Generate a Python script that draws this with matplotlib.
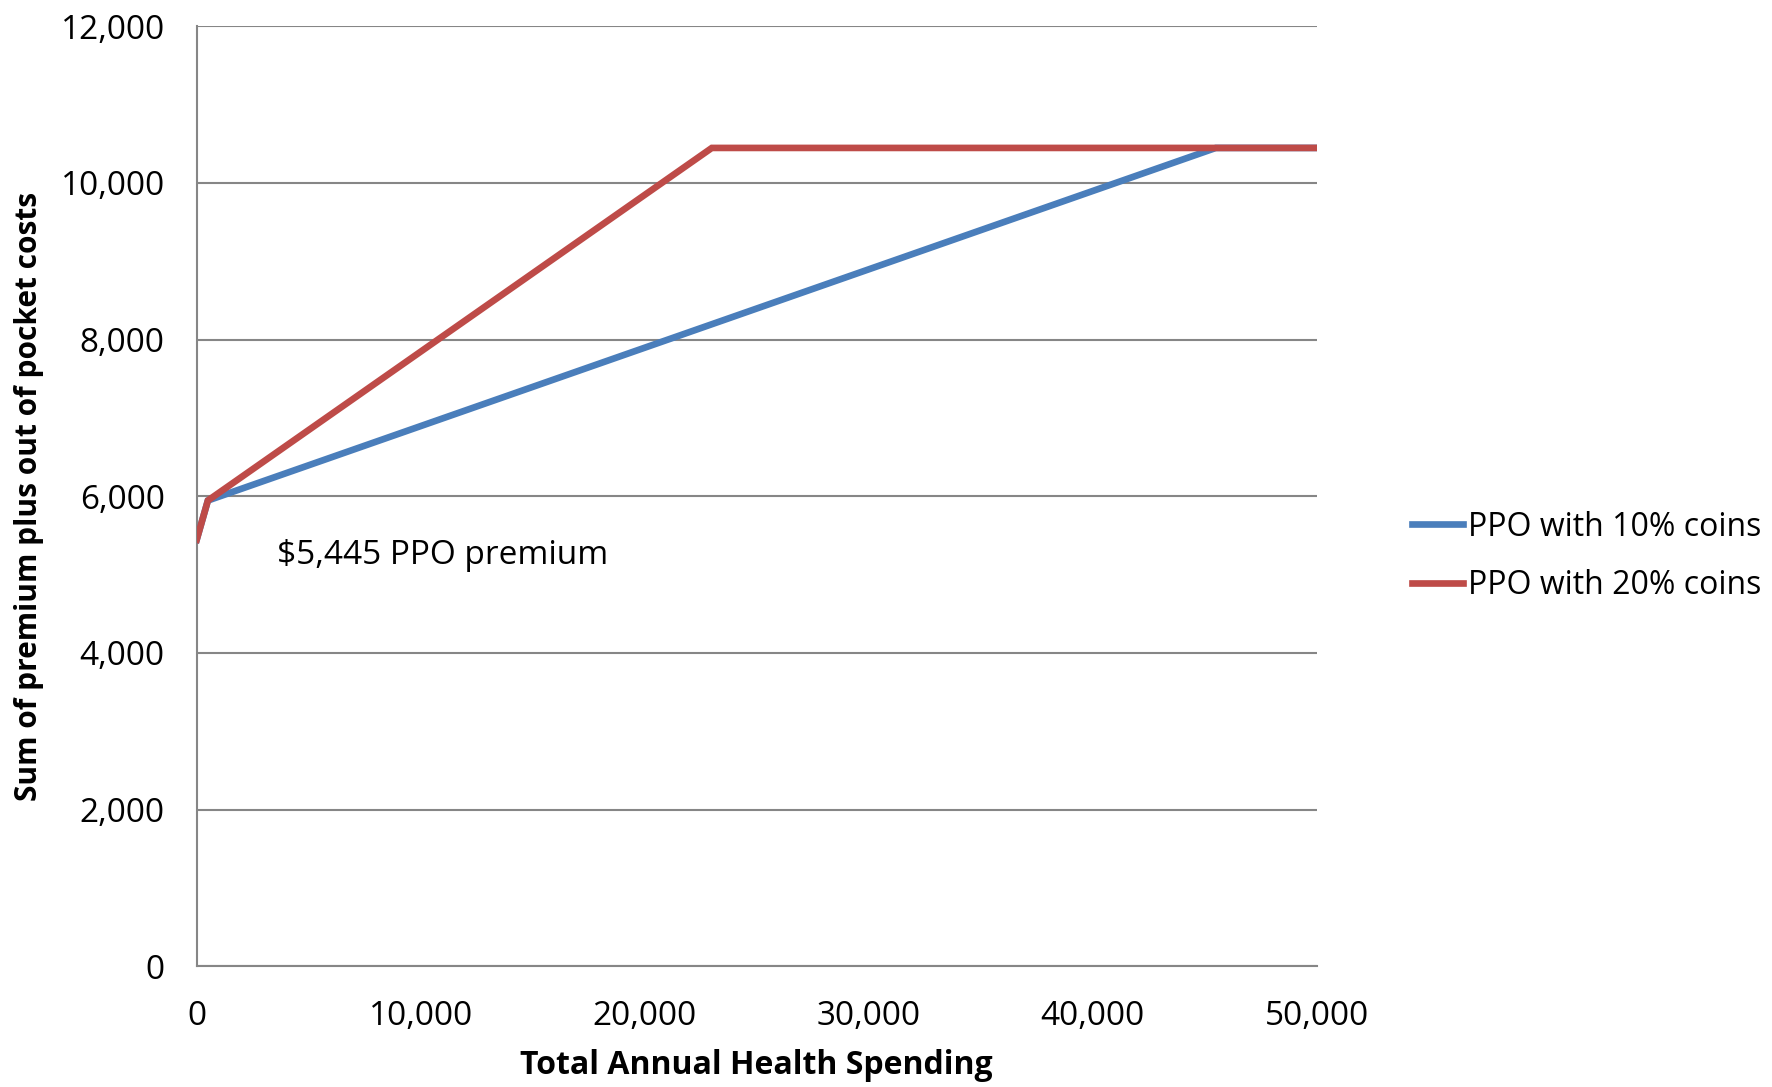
import matplotlib
matplotlib.use("Agg")
import matplotlib.pyplot as plt
from matplotlib.ticker import FuncFormatter, MultipleLocator

plt.rcParams['font.family'] = ['Open Sans', 'DejaVu Sans']

# Total annual health spending breakpoints and cost totals (premium + out of pocket)
spend_10 = [0, 500, 45500, 50000]
cost_10 = [5445, 5945, 10445, 10445]
spend_20 = [0, 500, 23000, 50000]
cost_20 = [5445, 5945, 10445, 10445]

label_10 = "PPO with 10% coins"
label_20 = "PPO with 20% coins"
premium_note = "$5,445 PPO premium"

blue = "#4A7EBB"
red = "#BE4B48"
grid_gray = "#868686"

fig = plt.figure(figsize=(17.72, 10.87), dpi=100)
ax = fig.add_axes([0.111, 0.111, 0.632, 0.865])

ax.plot(spend_10, cost_10, color=blue, lw=4.8, solid_joinstyle='miter', label=label_10, zorder=3)
ax.plot(spend_20, cost_20, color=red, lw=4.8, solid_joinstyle='miter', label=label_20, zorder=4)

ax.set_xlim(0, 50000)
ax.set_ylim(0, 12000)
ax.xaxis.set_major_locator(MultipleLocator(10000))
ax.yaxis.set_major_locator(MultipleLocator(2000))
fmt = FuncFormatter(lambda v, p: f"{int(v):,}")
ax.xaxis.set_major_formatter(fmt)
ax.yaxis.set_major_formatter(fmt)

ax.grid(axis='y', color=grid_gray, lw=1.5)
ax.set_axisbelow(True)
for side in ['top', 'right']:
    ax.spines[side].set_visible(False)
for side in ['left', 'bottom']:
    ax.spines[side].set_color(grid_gray)
    ax.spines[side].set_linewidth(1.5)
ax.tick_params(axis='both', length=0, labelsize=24, colors='black')
ax.tick_params(axis='x', pad=24)
ax.tick_params(axis='y', pad=23)

ax.text(3600, 5240, premium_note, fontsize=24, va='center', ha='left')

ax.set_xlabel("Total Annual Health Spending", fontsize=23, fontweight='bold', labelpad=12)
ax.set_ylabel("Sum of premium plus out of pocket costs", fontsize=21.5, fontweight='bold')
ax.yaxis.set_label_coords(-0.136, 0.5)

leg = ax.legend(loc='center left', bbox_to_anchor=(1.085, 0.436), frameon=False, fontsize=23,
                handlelength=1.6, handletextpad=0.15, labelspacing=0.8, borderaxespad=0, borderpad=0)

fig.savefig("out.png", dpi=100)
